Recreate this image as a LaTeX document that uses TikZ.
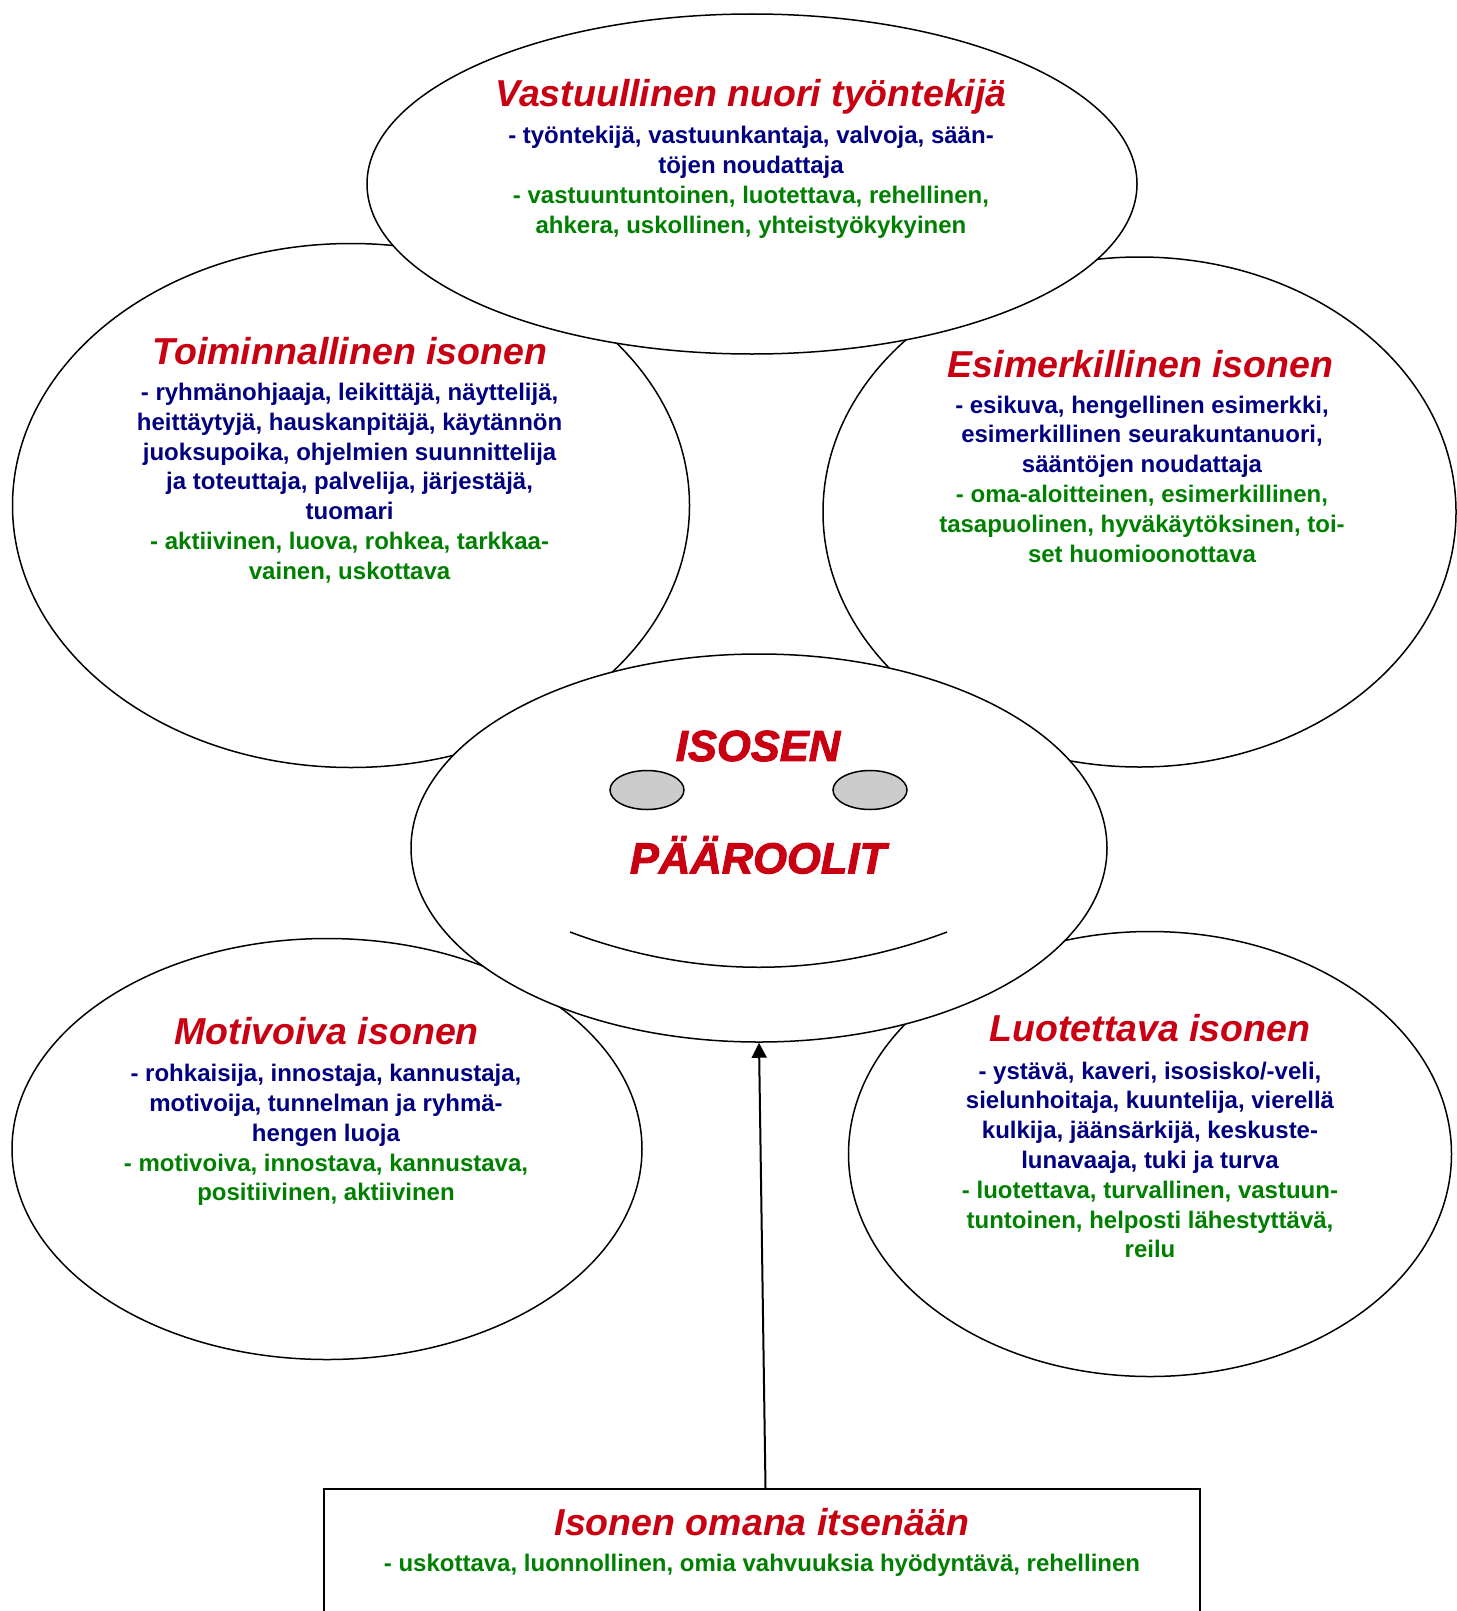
\documentclass[tikz,border=0pt]{standalone}
\usepackage{fontspec}
\setmainfont{Liberation Sans}
\newfontfamily\heavyfont[FakeBold=2.2,BoldFont={Liberation Sans Bold},BoldItalicFont={Liberation Sans Bold Italic}]{Liberation Sans}
\usetikzlibrary{shapes.geometric,arrows.meta}
\definecolor{ttl}{RGB}{200,0,18}
\definecolor{blu}{RGB}{0,0,128}
\definecolor{grn}{RGB}{0,128,0}
\tikzset{
  bubble/.style={ellipse,draw=black,line width=1.5pt,fill=white,inner sep=0pt},
  eye/.style={ellipse,draw=black,line width=1.5pt,fill=black!20,inner sep=0pt,minimum width=74pt,minimum height=39pt},
  ttlnode/.style={text=ttl,inner sep=0pt,font=\fontsize{37.5}{40}\selectfont\bfseries\itshape},
  bodynode/.style={inner sep=0pt,align=center,font=\fontsize{24}{29.8}\selectfont\bfseries},
  bigttl/.style={text=ttl,inner sep=0pt,font=\heavyfont\fontsize{43.5}{50}\selectfont\bfseries\itshape}
}
\begin{document}
\begin{tikzpicture}[x=1pt,y=-1pt]
\useasboundingbox (0,0) rectangle (1456,1611);
% ellipses
\node[bubble,minimum width=677pt,minimum height=524pt] (left) at (351,505.5) {};
\node[bubble,minimum width=633pt,minimum height=510pt] (right) at (1139.5,512) {};
\node[bubble,minimum width=630pt,minimum height=421pt] (mot) at (327,1149) {};
\node[bubble,minimum width=603pt,minimum height=445pt] (luo) at (1150,1154) {};
\node[bubble,minimum width=770pt,minimum height=340pt] (top) at (752,184) {};
\node[bubble,minimum width=696pt,minimum height=388pt] (mid) at (759,848) {};
% bottom box
\node[draw=black,line width=1.5pt,fill=white,minimum width=876pt,minimum height=200pt,inner sep=0pt,anchor=north] (box) at (762,1488) {};
% face
\node[eye] (eyeL) at (647,790) {};
\node[eye] (eyeR) at (870,790) {};
\draw[line width=1.5pt] (570,932) .. controls (696,979) and (822,979) .. (947,932);
% arrow
\draw[line width=2pt,-{Triangle[length=15pt,width=15pt]}] ([xshift=3.5pt]box.north) -- (mid.south);
% texts
\node[bigttl] (t1) at (758,746) {ISOSEN};
\node[bigttl] (t2) at (758,855) {PÄÄROOLIT};

\node[ttlnode] (topT) at (751,96.5) {Vastuullinen nuori työntekijä};
\node[bodynode] (topB) at (751,182.3) {\textcolor{blu}{- työntekijä, vastuunkantaja, valvoja, sään-}\\\textcolor{blu}{töjen noudattaja}\\\textcolor{grn}{- vastuuntuntoinen, luotettava, rehellinen,}\\\textcolor{grn}{ahkera, uskollinen, yhteistyökykyinen}};

\node[ttlnode] (leftT) at (350,351) {Toiminnallinen isonen};
\node[bodynode] (leftB) at (349.6,483) {\textcolor{blu}{- ryhmänohjaaja, leikittäjä, näyttelijä,}\\\textcolor{blu}{heittäytyjä, hauskanpitäjä, käytännön}\\\textcolor{blu}{juoksupoika, ohjelmien suunnittelija}\\\textcolor{blu}{ja toteuttaja, palvelija, järjestäjä,}\\\textcolor{blu}{tuomari}\\\textcolor{grn}{- aktiivinen, luova, rohkea, tarkkaa-}\\\textcolor{grn}{vainen, uskottava}};

\node[ttlnode] (rightT) at (1140.5,363.7) {Esimerkillinen isonen};
\node[bodynode] (rightB) at (1142,479) {\textcolor{blu}{- esikuva, hengellinen esimerkki,}\\\textcolor{blu}{esimerkillinen seurakuntanuori,}\\\textcolor{blu}{sääntöjen noudattaja}\\\textcolor{grn}{- oma-aloitteinen, esimerkillinen,}\\\textcolor{grn}{tasapuolinen, hyväkäytöksinen, toi-}\\\textcolor{grn}{set huomioonottava}};

\node[ttlnode] (motT) at (326.7,1030.6) {Motivoiva isonen};
\node[bodynode] (motB) at (326,1135) {\textcolor{blu}{- rohkaisija, innostaja, kannustaja,}\\\textcolor{blu}{motivoija, tunnelman ja ryhmä-}\\\textcolor{blu}{hengen luoja}\\\textcolor{grn}{- motivoiva, innostava, kannustava,}\\\textcolor{grn}{positiivinen, aktiivinen}};

\node[ttlnode] (luoT) at (1150,1028.5) {Luotettava isonen};
\node[bodynode] (luoB) at (1150,1160) {\textcolor{blu}{- ystävä, kaveri, isosisko/-veli,}\\\textcolor{blu}{sielunhoitaja, kuuntelija, vierellä}\\\textcolor{blu}{kulkija, jäänsärkijä, keskuste-}\\\textcolor{blu}{lunavaaja, tuki ja turva}\\\textcolor{grn}{- luotettava, turvallinen, vastuun-}\\\textcolor{grn}{tuntoinen, helposti lähestyttävä,}\\\textcolor{grn}{reilu}};

\node[ttlnode] (boxT) at (762,1522) {Isonen omana itsenään};
\node[bodynode,text=grn] (boxB) at (762,1565) {- uskottava, luonnollinen, omia vahvuuksia hyödyntävä, rehellinen};
\end{tikzpicture}
\end{document}
